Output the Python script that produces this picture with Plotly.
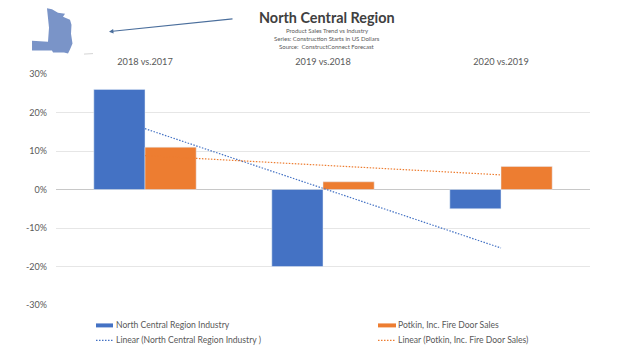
import plotly.graph_objects as go

W, H = 624, 351
L, R, T, B = 56, 590, 73.5, 305.5

categories = ["2018 vs.2017", "2019 vs.2018", "2020 vs.2019"]
industry = [26, -20, -5]
potkin = [11, 2, 6]
industry_trend = [15.8, 0.3, -15.2]
potkin_trend = [8.8, 6.3, 3.8]
tick_vals = [30, 20, 10, 0, -10, -20, -30]
tick_text = ["30%", "20%", "10%", "0%", "-10%", "-20%", "-30%"]
names = ["North Central Region Industry", "Potkin, Inc. Fire Door Sales",
         "Linear (North Central Region Industry )", "Linear (Potkin, Inc. Fire Door Sales)"]

map_outline = [(47, 7.5), (52, 8.5), (58, 12), (65, 13), (63, 16), (70, 19), (71.5, 24), (71, 33),
               (72.5, 43), (70, 49), (68, 53), (64, 52), (53, 52), (52, 50), (32, 50),
               (32, 40), (48, 41), (49, 27)]

def px(x): return (x - L) / (R - L)
def py(y): return (B - y) / (B - T)

BLUE, ORANGE = "#4472C4", "#ED7D31"
TXT = "#595959"
FONT = "Lato"
DOT = "1.5px,1.5px"

fig = go.Figure()
fig.add_bar(x=categories, y=industry, name=names[0], marker_color=BLUE)
fig.add_bar(x=categories, y=potkin, name=names[1], marker_color=ORANGE)
fig.add_scatter(x=categories, y=industry_trend, mode="lines", name=names[2],
                line=dict(color=BLUE, width=1.2, dash=DOT))
fig.add_scatter(x=categories, y=potkin_trend, mode="lines", name=names[3],
                line=dict(color=ORANGE, width=1.2, dash=DOT))

path = "M" + " L".join(f"{px(x):.4f},{py(y):.4f}" for x, y in map_outline) + " Z"
shapes = [
    dict(type="path", xref="paper", yref="paper", path=path, fillcolor="#7A94C8", line=dict(width=0), layer="above"),
    dict(type="line", xref="paper", yref="paper", x0=px(84), x1=px(93), y0=py(53.5), y1=py(53),
         line=dict(color="#D5D5D5", width=1)),
    dict(type="rect", xref="paper", yref="paper", x0=px(96), x1=px(113), y0=py(328), y1=py(324),
         fillcolor=BLUE, line=dict(width=0)),
    dict(type="rect", xref="paper", yref="paper", x0=px(378), x1=px(396), y0=py(328), y1=py(324),
         fillcolor=ORANGE, line=dict(width=0)),
    dict(type="line", xref="paper", yref="paper", x0=px(96), x1=px(113), y0=py(341), y1=py(341),
         line=dict(color=BLUE, width=1.2, dash=DOT)),
    dict(type="line", xref="paper", yref="paper", x0=px(378), x1=px(396), y0=py(341), y1=py(341),
         line=dict(color=ORANGE, width=1.2, dash=DOT)),
]

def text(x, y, s, size, color=TXT, anchor="center"):
    return dict(xref="paper", yref="paper", x=px(x), y=py(y), text=s, showarrow=False,
                font=dict(family=FONT, size=size, color=color), xanchor=anchor, yanchor="middle")

annotations = [
    text(327, 17, "<b>North Central Region</b>", 14.4, "#404040"),
    text(327, 30, "Product Sales Trend vs Industry", 6),
    text(327, 38, "Series: Construction Starts in US Dollars", 6),
    text(327, 46, "Source:  ConstructConnect Forecast", 6),
    text(113.5, 326, names[0], 8.6, anchor="left"),
    text(395.5, 326, names[1], 8.6, anchor="left"),
    text(113.5, 341, names[2], 8.6, anchor="left"),
    text(395.5, 341, names[3], 8.6, anchor="left"),
    dict(xref="paper", yref="paper", axref="pixel", ayref="pixel", x=px(109), y=py(31), ax=125, ay=-13, text="",
         showarrow=True, arrowhead=2, arrowsize=0.8, arrowwidth=1.1, arrowcolor="#4A6E9C"),
]

fig.update_layout(
    width=W, height=H, autosize=False, showlegend=False,
    margin=dict(l=L, r=W - R, t=T, b=H - B, pad=0, autoexpand=False),
    paper_bgcolor="white", plot_bgcolor="white",
    barmode="group", bargap=0.425, bargroupgap=0,
    font=dict(family=FONT, color=TXT, size=9),
    shapes=shapes, annotations=annotations,
    xaxis=dict(side="top", showgrid=False, showline=False, ticks="", tickfont=dict(family=FONT, size=9.2, color=TXT),
               ticklabelstandoff=6),
    yaxis=dict(range=[-30, 30], tickvals=tick_vals, ticktext=tick_text, gridcolor="#E6E6E6", gridwidth=1,
               zeroline=True, zerolinecolor="#C8C8C8", zerolinewidth=1, showline=False, ticks="",
               tickfont=dict(family=FONT, size=9, color=TXT), ticklabelstandoff=8),
)
fig.write_html("out.html", config={"displayModeBar": False},
               post_script="document.body.style.margin='0';document.body.style.overflow='hidden';")
